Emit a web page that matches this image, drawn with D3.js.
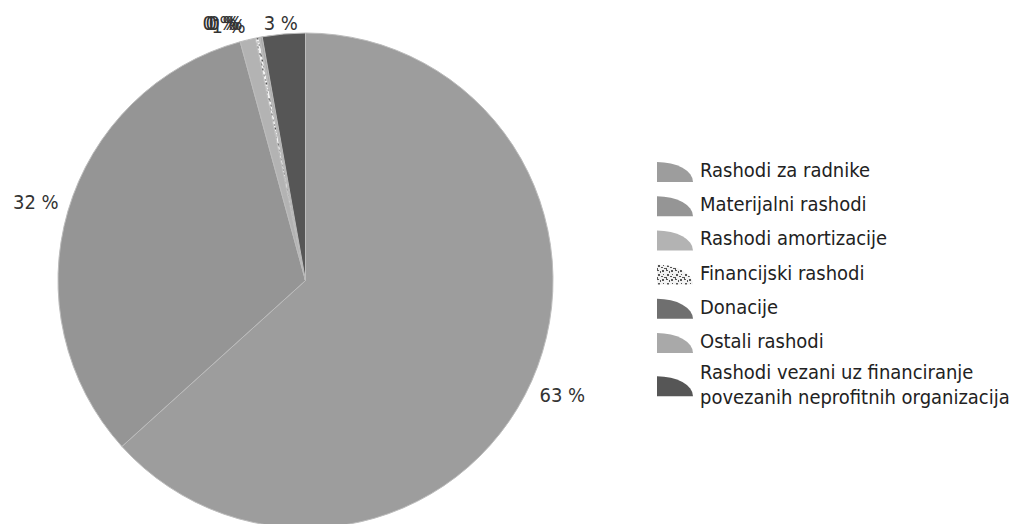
<!DOCTYPE html>
<html><head><meta charset="utf-8">
<script src="https://cdn.jsdelivr.net/npm/d3@7"></script>
<style>body{margin:0;background:#fff;overflow:hidden}</style>
</head><body>
<svg id="c" width="1016" height="524"></svg>
<script>
const categories = ["Rashodi za radnike","Materijalni rashodi","Rashodi amortizacije","Financijski rashodi","Donacije","Ostali rashodi","Rashodi vezani uz financiranje povezanih neprofitnih organizacija"];
const values = [63.3, 32.45, 1.0, 0.25, 0.05, 0.15, 2.8];
const legendLines = [["Rashodi za radnike"],["Materijalni rashodi"],["Rashodi amortizacije"],["Financijski rashodi"],["Donacije"],["Ostali rashodi"],["Rashodi vezani uz financiranje","povezanih neprofitnih organizacija"]];
const colors = ["#9d9d9d","#959595","#b3b3b3","url(#finPat)","#6f6f6f","#a9a9a9","#565656"];

const svg = d3.select("#c");
const FONT = "'DejaVu Sans Condensed','DejaVu Sans',sans-serif";

// pattern for Financijski rashodi
const defs = svg.append("defs");
const pat = defs.append("pattern").attr("id","finPat").attr("patternUnits","userSpaceOnUse")
  .attr("width",9).attr("height",9);
pat.append("rect").attr("width",9).attr("height",9).attr("fill","#f2f2f2");
[[0,0,2,1],[3,1,1,2],[5,0,2,2],[1,4,2,2],[6,4,1,1],[4,6,2,1],[0,7,1,2],[7,7,2,1]].forEach(r=>{
  pat.append("rect").attr("x",r[0]).attr("y",r[1]).attr("width",r[2]).attr("height",r[3]).attr("fill","#555");
});

const cx = 305.5, cy = 280.5, r = 247.5;
const pie = d3.pie().sort(null).value(d=>d)(values);
const arc = d3.arc().innerRadius(0).outerRadius(r);
const g = svg.append("g").attr("transform",`translate(${cx},${cy})`);
g.selectAll("path").data(pie).join("path")
  .attr("d",arc)
  .attr("fill",(d,i)=>colors[i])
  .attr("stroke","#bcbcbc").attr("stroke-width",1);

// fit font size so first legend entry ~170px
const probe = svg.append("text").attr("font-family",FONT).attr("font-size",20).text(legendLines[0][0]);
const w20 = probe.node().getComputedTextLength();
probe.remove();
const fs = Math.min(22, 20*170/w20);

// labels
const labR = 281;
const labels = pie.map((d,i)=>{
  const a = (d.startAngle+d.endAngle)/2;
  let x = cx + labR*Math.sin(a), y = cy - labR*Math.cos(a);
  if (y < 22.5) y = 22.5;
  return {x,y,t:Math.round(values[i])+" %",i};
});
const lt = svg.append("g").selectAll("text").data(labels).join("text")
  .attr("font-family",FONT).attr("font-size",fs).attr("fill","#333")
  .attr("text-anchor","middle").attr("dominant-baseline","central")
  .text(d=>d.t);
lt.each(function(d){ d.w = this.getComputedTextLength(); });
const last = labels[labels.length-1];
labels.forEach((d,k)=>{
  if (k>=2 && k<labels.length-1) {
    const maxRight = last.x - last.w/2 - 18 - (k-2)*3;
    if (d.x + d.w/2 > maxRight) d.x = maxRight - d.w/2;
    if (k===2) d.y += 3;
  }
});
lt.attr("x",d=>d.x).attr("y",d=>d.y);

// legend
const lx = 657, tx = 700, iw = 36, ih = 20;
const rowY = d3.scaleLinear().domain([0,1]).range([170,204.2]);
const leg = svg.append("g");
legendLines.forEach((lines,i)=>{
  const yc = lines.length>1 ? rowY(i)+9 : rowY(i);
  const iy = yc - ih/2 + 2;
  leg.append("path")
    .attr("d",`M${lx},${iy+ih} L${lx},${iy} A${iw},${ih} 0 0 1 ${lx+iw},${iy+ih} Z`)
    .attr("fill",colors[i]);
  lines.forEach((ln,j)=>{
    leg.append("text").attr("x",tx).attr("y",yc + (j-(lines.length-1)/2)*25)
      .attr("font-family",FONT).attr("font-size",fs).attr("fill","#222")
      .attr("dominant-baseline","central").text(ln);
  });
});
</script>
</body></html>
